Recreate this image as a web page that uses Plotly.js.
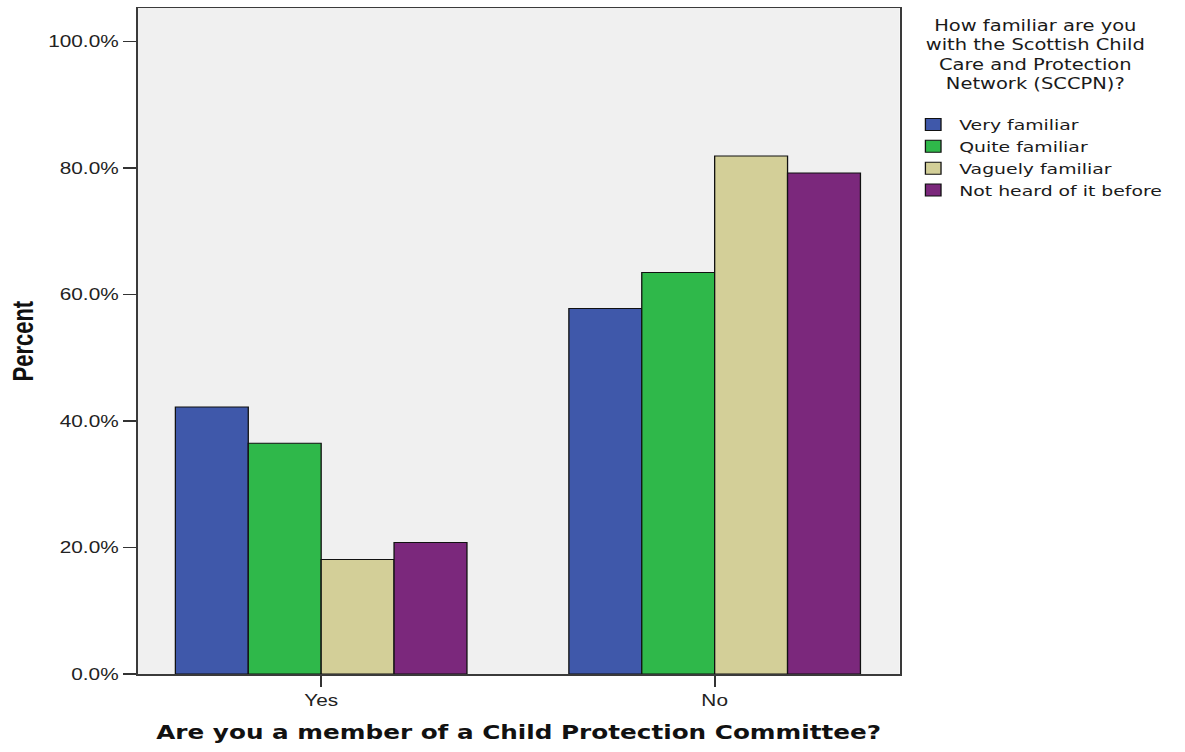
<!DOCTYPE html>
<html>
<head>
<meta charset="utf-8">
<script src="https://cdn.plot.ly/plotly-3.0.1.min.js"></script>
<style>
  html, body { margin: 0; padding: 0; background: #ffffff; overflow: hidden; }
  #chart { width: 912px; height: 752px; transform: scaleX(1.3); transform-origin: 0 0; }
</style>
</head>
<body>
<div id="chart"></div>
<script>
// ---- data ----
const categories = ["Yes", "No"];
const seriesNames = ["Very familiar", "Quite familiar", "Vaguely familiar", "Not heard of it before"];
const veryFamiliar = [42.2, 57.8];
const quiteFamiliar = [36.5, 63.5];
const vaguelyFamiliar = [18.1, 81.9];
const notHeardBefore = [20.8, 79.2];
const yTickValues = [0, 20, 40, 60, 80, 100];
const yTickLabels = ["0.0%", "20.0%", "40.0%", "60.0%", "80.0%", "100.0%"];
const legendTitleLines = ["How familiar are you", "with the Scottish Child", "Care and Protection", "Network (SCCPN)?"];
const xAxisTitle = "Are you a member of a Child Protection Committee?";
const yAxisTitle = "Percent";

// ---- styles ----
const seriesValues = [veryFamiliar, quiteFamiliar, vaguelyFamiliar, notHeardBefore];
const seriesColors = ["#3f58aa", "#2fb84a", "#d3cf98", "#7b287c"];

const traces = seriesNames.map((name, i) => ({
  type: "bar",
  name: name,
  x: categories,
  y: seriesValues[i],
  marker: { color: seriesColors[i], line: { color: "#111111", width: 1 } },
  hoverinfo: "none"
}));

const layout = {
  width: 912,
  height: 752,
  paper_bgcolor: "#ffffff",
  plot_bgcolor: "#f0f0f0",
  margin: { l: 106, r: 220, t: 8, b: 78 },
  barmode: "group",
  bargap: 0.259,
  bargroupgap: 0,
  showlegend: true,
  legend: {
    x: 1.01, xanchor: "left",
    y: 0.849, yanchor: "top",
    bgcolor: "rgba(0,0,0,0)",
    font: { family: "DejaVu Sans, Verdana, sans-serif", size: 14.5, color: "#1a1a1a" },
    tracegroupgap: 0,
    traceorder: "normal"
  },
  xaxis: {
    type: "category",
    range: [-0.466, 1.47],
    showgrid: false,
    zeroline: false,
    showline: true, mirror: true,
    linecolor: "#3a3a3a", linewidth: 1.5,
    ticks: "outside", ticklen: 11, tickwidth: 1.5, tickcolor: "#333333",
    tickfont: { family: "Liberation Sans, Arial, sans-serif", size: 16, color: "#222222" },
    title: {
      text: xAxisTitle,
      standoff: 18,
      font: { family: "DejaVu Sans, Verdana, sans-serif", size: 19, weight: "bold", color: "#111111" }
    }
  },
  yaxis: {
    range: [0, 105.3],
    tickmode: "array",
    tickvals: yTickValues,
    ticktext: yTickLabels,
    showgrid: false,
    zeroline: false,
    showline: true, mirror: true,
    linecolor: "#3a3a3a", linewidth: 1.5,
    ticks: "outside", ticklen: 10, tickwidth: 1.5, tickcolor: "#333333",
    tickfont: { family: "Liberation Sans, Arial, sans-serif", size: 16, color: "#222222" }
  },
  annotations: [
    {
      text: legendTitleLines.join("<br>"),
      xref: "paper", yref: "paper",
      x: 1.179, y: 0.989,
      xanchor: "center", yanchor: "top", align: "center",
      showarrow: false,
      font: { family: "DejaVu Sans, Verdana, sans-serif", size: 15, color: "#1a1a1a" }
    },
    {
      text: yAxisTitle,
      xref: "paper", yref: "paper",
      x: -0.151, y: 0.5,
      xanchor: "center", yanchor: "middle",
      textangle: -90,
      showarrow: false,
      font: { family: "Liberation Sans, Arial, sans-serif", size: 22, weight: "bold", color: "#111111" }
    }
  ]
};

Plotly.newPlot("chart", traces, layout, { displayModeBar: false, staticPlot: true });
</script>
</body>
</html>
